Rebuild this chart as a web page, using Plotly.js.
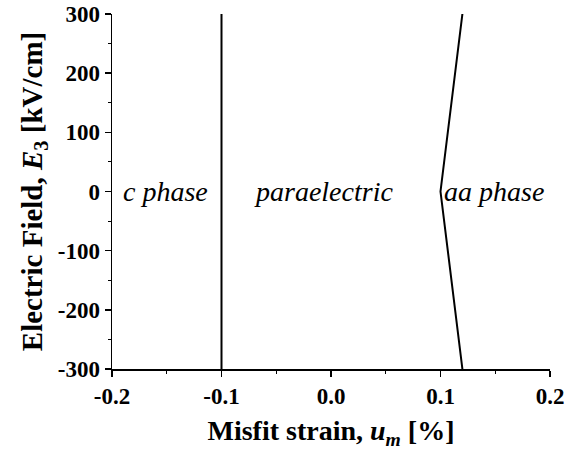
<!DOCTYPE html>
<html>
<head>
<meta charset="utf-8">
<script src="https://cdn.plot.ly/plotly-3.0.1.min.js"></script>
<style>
  html, body { margin: 0; padding: 0; background: #fff; }
  #chart { width: 577px; height: 455px; }
</style>
</head>
<body>
<div id="chart"></div>
<script>
// Phase boundaries of the film: misfit strain (%) versus applied field (kV/cm)
const cBoundaryStrain = [-0.1, -0.1];
const cBoundaryField = [-300, 300];
const aaBoundaryStrain = [0.12, 0.10, 0.12];
const aaBoundaryField = [-300, 0, 300];

// Axis ticks
const xTickVals = [-0.2, -0.1, 0.0, 0.1, 0.2];
const xTickText = ['-0.2', '-0.1', '0.0', '0.1', '0.2'];
const yTickVals = [-300, -200, -100, 0, 100, 200, 300];
const yTickText = ['-300', '-200', '-100', '0', '100', '200', '300'];

// Phase region labels
const phaseNames = ['<i>c phase</i>', '<i>paraelectric</i>', '<i>aa phase</i>'];
const phaseStrain = [-0.151, -0.007, 0.149];
const phaseField = [0, 0, 0];

const FONT = 'Liberation Serif';
const lineStyle = { color: '#000', width: 2 };

const traces = [
  { x: cBoundaryStrain, y: cBoundaryField, mode: 'lines', line: lineStyle, showlegend: false, hoverinfo: 'skip' },
  { x: aaBoundaryStrain, y: aaBoundaryField, mode: 'lines', line: lineStyle, showlegend: false, hoverinfo: 'skip' }
];

const annotations = phaseNames.map((t, i) => ({
  x: phaseStrain[i], y: phaseField[i], xref: 'x', yref: 'y',
  text: t, showarrow: false, xanchor: 'center', yanchor: 'middle',
  font: { family: FONT, size: 28, color: '#000' }
}));

const xRange = [-0.2, 0.2];
const yRange = [-300, 300];

const tickFont = { family: FONT, size: 23, color: '#000', weight: 'bold' };

const layout = {
  width: 577, height: 455,
  margin: { l: 112, r: 27, t: 14, b: 86 },
  paper_bgcolor: '#fff', plot_bgcolor: '#fff',
  showlegend: false,
  font: { family: FONT, color: '#000' },
  xaxis: {
    range: xRange, showgrid: false, zeroline: false,
    showline: true, linecolor: '#000', linewidth: 1.5,
    tickmode: 'array', tickvals: xTickVals, ticktext: xTickText,
    ticks: 'outside', ticklen: 6, tickwidth: 1.5, tickcolor: '#000',
    minor: { ticks: 'outside', dtick: 0.05, ticklen: 3, tickwidth: 1, tickcolor: '#000', showgrid: false },
    tickfont: tickFont,
    title: { text: '<b>Misfit strain, <i>u</i><sub><i>m</i></sub> [%]</b>', font: { family: FONT, size: 28, color: '#000' }, standoff: 12 }
  },
  yaxis: {
    range: yRange, showgrid: false, zeroline: false,
    showline: true, linecolor: '#000', linewidth: 1.5,
    tickmode: 'array', tickvals: yTickVals, ticktext: yTickText,
    ticks: 'outside', ticklen: 6, tickwidth: 1.5, tickcolor: '#000',
    minor: { ticks: 'outside', dtick: 50, ticklen: 3, tickwidth: 1, tickcolor: '#000', showgrid: false },
    tickfont: tickFont,
    title: { text: '<b>Electric Field, <i>E</i><sub>3</sub> [kV/cm]</b>', font: { family: FONT, size: 29, color: '#000' }, standoff: 6 }
  },
  // Frame on the top and right with inward ticks
  xaxis2: {
    range: xRange, overlaying: 'x', side: 'top', anchor: 'y',
    showgrid: false, zeroline: false, showticklabels: false,
    showline: true, linecolor: '#000', linewidth: 1.5,
    tickmode: 'array', tickvals: xTickVals,
    ticks: 'inside', ticklen: 6, tickwidth: 1.5, tickcolor: '#000',
    minor: { ticks: 'inside', dtick: 0.05, ticklen: 3, tickwidth: 1, tickcolor: '#000', showgrid: false }
  },
  yaxis2: {
    range: yRange, overlaying: 'y', side: 'right', anchor: 'x',
    showgrid: false, zeroline: false, showticklabels: false,
    showline: true, linecolor: '#000', linewidth: 1.5,
    tickmode: 'array', tickvals: yTickVals,
    ticks: 'inside', ticklen: 6, tickwidth: 1.5, tickcolor: '#000',
    minor: { ticks: 'inside', dtick: 50, ticklen: 3, tickwidth: 1, tickcolor: '#000', showgrid: false }
  },
  annotations: annotations
};

Plotly.newPlot('chart', traces, layout, { staticPlot: true, displayModeBar: false });
</script>
</body>
</html>
